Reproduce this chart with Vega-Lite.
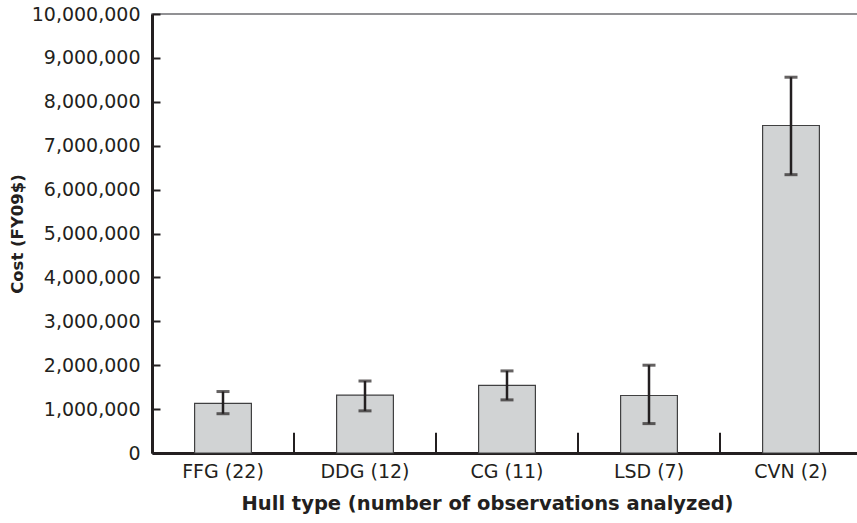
{
  "$schema": "https://vega.github.io/schema/vega-lite/v6.json",
  "autosize": {"type": "none"},
  "padding": {"left": 152, "top": 14, "right": 0, "bottom": 70},
  "width": 710,
  "height": 439,
  "background": "white",
  "config": {
    "font": "DejaVu Sans",
    "view": {"stroke": "#6d6e71", "strokeWidth": 1.5},
    "axis": {
      "labelFont": "DejaVu Sans",
      "titleFont": "DejaVu Sans",
      "labelColor": "#231f20",
      "titleColor": "#231f20",
      "domainColor": "#231f20",
      "tickColor": "#231f20",
      "grid": false
    }
  },
  "data": {
    "values": [
      {"hull": "FFG (22)", "cost": 1130000, "lo": 895000, "hi": 1400000},
      {"hull": "DDG (12)", "cost": 1320000, "lo": 960000, "hi": 1640000},
      {"hull": "CG (11)", "cost": 1540000, "lo": 1210000, "hi": 1870000},
      {"hull": "LSD (7)", "cost": 1310000, "lo": 670000, "hi": 2000000},
      {"hull": "CVN (2)", "cost": 7460000, "lo": 6340000, "hi": 8560000}
    ]
  },
  "encoding": {
    "x": {
      "field": "hull",
      "type": "nominal",
      "sort": null,
      "scale": {"paddingInner": 0, "paddingOuter": 0},
      "axis": {
        "title": "Hull type (number of observations analyzed)",
        "labelAngle": 0,
        "labelFontSize": 19,
        "titleFontSize": 19.5,
        "titleFontWeight": "bold",
        "titleX": 335,
        "domainWidth": 3,
        "ticks": false,
        "labelPadding": 9,
        "titlePadding": 13
      }
    }
  },
  "layer": [
    {
      "mark": {"type": "bar", "fill": "#d1d3d4", "stroke": "#404041", "strokeWidth": 1.2, "width": {"band": 0.4}},
      "encoding": {
        "y": {
          "field": "cost",
          "type": "quantitative",
          "title": "Cost (FY09$)",
          "scale": {"domain": [0, 10000000], "nice": false},
          "axis": {
            "values": [0, 1000000, 2000000, 3000000, 4000000, 5000000, 6000000, 7000000, 8000000, 9000000, 10000000],
            "format": ",d",
            "labelFontSize": 19,
            "titleFontSize": 16.5,
            "titleFontWeight": "bold",
            "domainWidth": 3,
            "tickSize": -8,
            "tickWidth": 2,
            "labelPadding": 20,
            "titlePadding": 6
          }
        }
      }
    },
    {
      "mark": {"type": "errorbar", "ticks": {"size": 13, "thickness": 3, "color": "#231f20"}, "rule": {"strokeWidth": 2.5, "color": "#231f20"}},
      "encoding": {
        "y": {"field": "lo", "type": "quantitative", "title": "Cost (FY09$)"},
        "y2": {"field": "hi"}
      }
    },
    {
      "transform": [{"filter": "datum.hull != 'FFG (22)'"}],
      "mark": {"type": "rule", "color": "#231f20", "strokeWidth": 2},
      "encoding": {
        "x": {"field": "hull", "type": "nominal", "sort": null, "bandPosition": 0},
        "y": {"datum": 0},
        "y2": {"datum": 460000}
      }
    }
  ]
}
